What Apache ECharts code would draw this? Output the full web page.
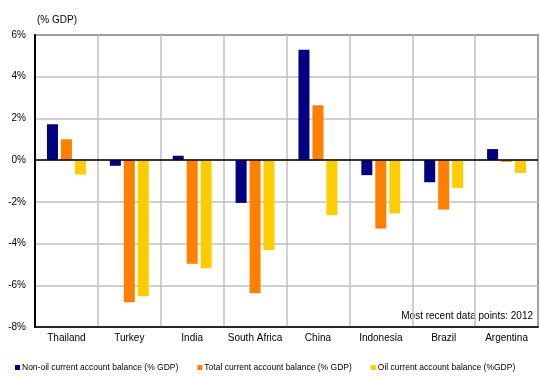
<!DOCTYPE html>
<html>
<head>
<meta charset="utf-8">
<style>
  html, body { margin: 0; padding: 0; background: #fff; }
  #chart { width: 540px; height: 377px; }
</style>
<script src="https://cdn.jsdelivr.net/npm/echarts@6/dist/echarts.min.js"></script>
</head>
<body>
<div id="chart"></div>
<script>
// Current account balances by country, % of GDP
const countries = ['Thailand', 'Turkey', 'India', 'South Africa', 'China', 'Indonesia', 'Brazil', 'Argentina'];
const nonOilBalance = [1.72, -0.27, 0.21, -2.05, 5.29, -0.72, -1.06, 0.53];
const totalBalance  = [1.00, -6.81, -4.97, -6.38, 2.63, -3.28, -2.37, -0.08];
const oilBalance    = [-0.69, -6.52, -5.18, -4.31, -2.64, -2.55, -1.33, -0.61];
const seriesNames = [
  'Non-oil current account balance (% GDP)',
  'Total current account balance (% GDP)',
  'Oil current account balance (%GDP)'
];
const seriesColors = ['#000080', '#FF7F00', '#FFCC00'];

const font = 'Liberation Sans, Arial, sans-serif';
const chart = echarts.init(document.getElementById('chart'), null, { renderer: 'canvas' });

const barSeries = [nonOilBalance, totalBalance, oilBalance].map((vals, i) => ({
  name: seriesNames[i],
  type: 'bar',
  data: vals,
  barWidth: 11,
  barGap: '27%',
  itemStyle: { color: seriesColors[i] },
  animation: false
}));

// zero reference line
barSeries[0].markLine = {
  silent: true,
  symbol: 'none',
  label: { show: false },
  lineStyle: { color: '#000', width: 1.5, type: 'solid' },
  data: [{ yAxis: 0 }],
  animation: false
};

chart.setOption({
  animation: false,
  backgroundColor: '#fff',
  textStyle: { fontFamily: font },
  grid: {
    left: 35, right: 2, top: 35, bottom: 50,
    show: true, borderColor: '#000', borderWidth: 1.5,
    containLabel: false
  },
  legend: {
    left: 10, bottom: 0,
    itemWidth: 5, itemHeight: 5, itemGap: 19,
    icon: 'rect',
    textStyle: { fontSize: 8.5, color: '#000', fontFamily: font, padding: [0, 0, 0, -3] },
    data: seriesNames
  },
  graphic: [
    {
      type: 'text', left: 37, top: 15,
      style: { text: '(% GDP)', fill: '#000', font: '10px ' + font }
    },
    {
      type: 'text', right: 7, top: 311,
      style: { text: 'Most recent data points: 2012', fill: '#000', font: '10px ' + font }
    }
  ],
  xAxis: {
    type: 'category',
    data: countries,
    boundaryGap: true,
    axisLine: { onZero: false, lineStyle: { color: '#000', width: 1.5 } },
    axisTick: { show: false },
    axisLabel: { color: '#000', fontSize: 10, margin: 6, fontFamily: font, interval: 0 },
    splitLine: { show: true, interval: 0, lineStyle: { color: '#c0c0c0', width: 1.5 } }
  },
  yAxis: {
    type: 'value',
    min: -8, max: 6, interval: 2,
    axisLine: { show: true, lineStyle: { color: '#000', width: 2 } },
    axisTick: { show: false },
    axisLabel: { color: '#000', fontSize: 10, margin: 9, fontFamily: font, formatter: '{value}%' },
    splitLine: { show: true, lineStyle: { color: '#c0c0c0', width: 1.5 } }
  },
  series: barSeries
});
</script>
</body>
</html>
